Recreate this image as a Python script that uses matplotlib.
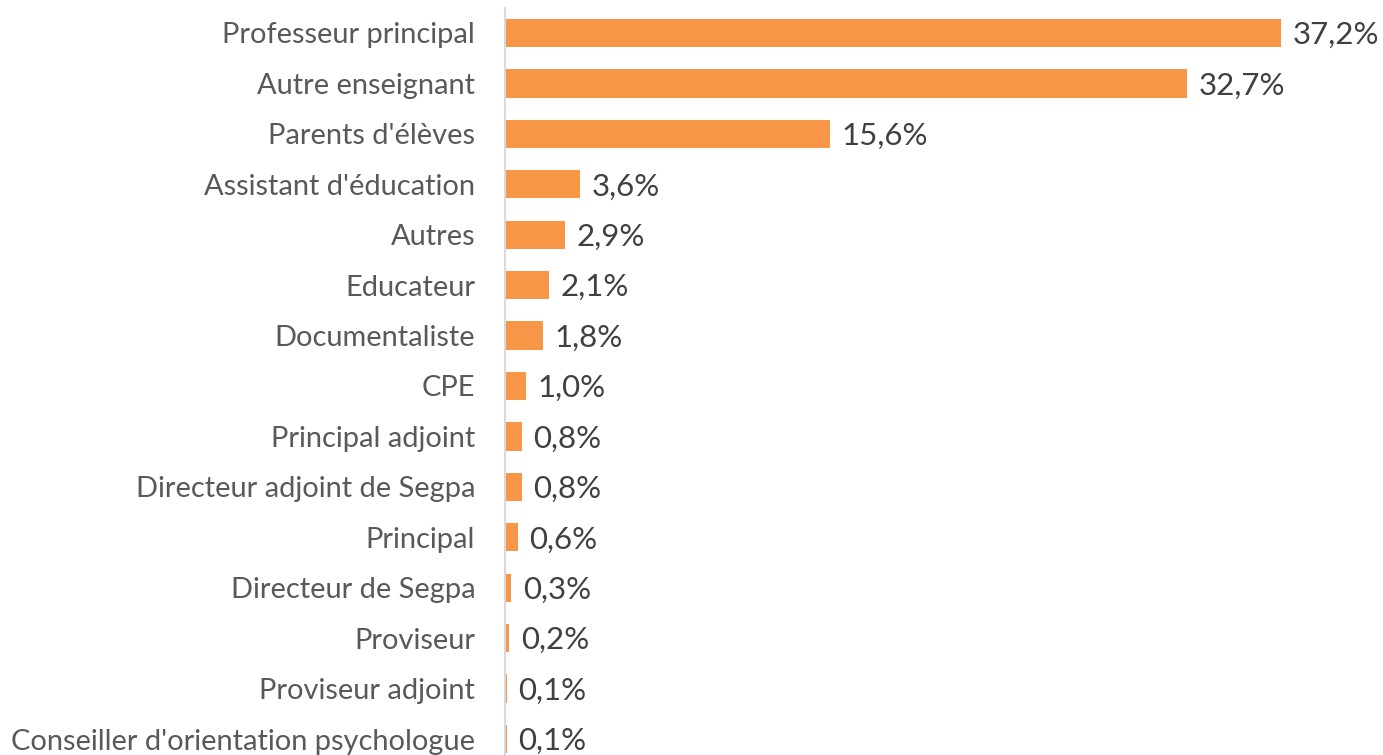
import matplotlib.pyplot as plt

categories = ['Professeur principal', 'Autre enseignant', "Parents d'élèves",
              "Assistant d'éducation", 'Autres', 'Educateur', 'Documentaliste',
              'CPE', 'Principal adjoint', 'Directeur adjoint de Segpa', 'Principal',
              'Directeur de Segpa', 'Proviseur', 'Proviseur adjoint',
              "Conseiller d'orientation psychologue"]
values = [37.2, 32.7, 15.6, 3.6, 2.9, 2.1, 1.8, 1.0, 0.8, 0.8, 0.6, 0.3, 0.2, 0.1, 0.1]

plt.rcParams['font.family'] = ['Lato', 'DejaVu Sans']

fig = plt.figure(figsize=(13.83, 7.55), dpi=100)
ax = fig.add_axes([505 / 1383, 0, 1 - 505 / 1383, 1])

pos = list(range(len(categories)))
ax.barh(pos, values, height=0.56, color='#F79646')

for p, v in zip(pos, values):
    ax.text(v + 0.55, p + 0.04, f'{v:.1f}%'.replace('.', ','), va='center', ha='left',
            fontsize=22.5, color='#404040')

ax.set_yticks(pos)
ax.set_yticklabels(categories, fontsize=20.9, color='#595959')
ax.tick_params(axis='y', length=0, pad=21.5)
ax.set_xticks([])
ax.set_xlim(0, 42.09)
ax.set_ylim(14.317, -0.654)

for s in ['top', 'right', 'bottom']:
    ax.spines[s].set_visible(False)
ax.spines['left'].set_color('#D9D9D9')
ax.spines['left'].set_linewidth(1.5)
ax.spines['left'].set_bounds(14.317, -0.49)

fig.savefig('out.png', dpi=100)
plt.close(fig)
